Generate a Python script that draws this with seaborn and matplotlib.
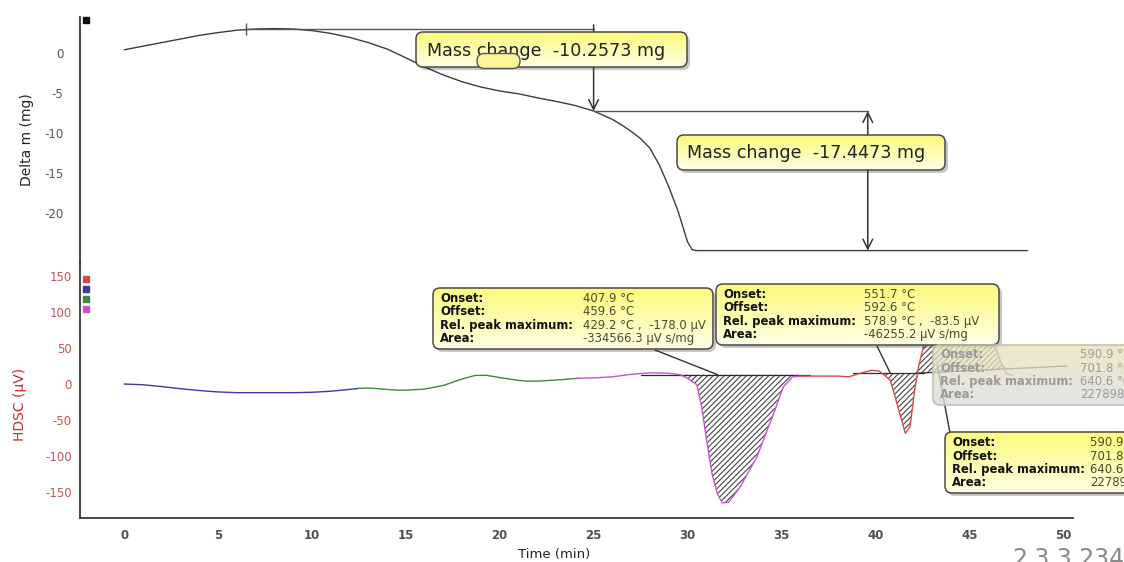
import numpy as np
import matplotlib
matplotlib.use("Agg")
import matplotlib.pyplot as plt
import seaborn as sns
from matplotlib.patches import FancyBboxPatch, ConnectionPatch
from matplotlib.ticker import MultipleLocator, FixedLocator

sns.set_style("white")
plt.rcParams["font.family"] = ["DejaVu Sans"]
plt.rcParams["hatch.linewidth"] = 0.8
plt.rcParams["axes.unicode_minus"] = False

# ---------------- TG (mass) curve ----------------
tg_time = [0, 1, 2, 3, 4, 5, 6, 7, 8, 9, 10, 11, 12, 13, 14, 15, 16, 17, 18, 19,
           20, 21, 22, 23, 24, 25, 26, 26.5, 27, 27.5, 28, 28.5, 29, 29.5, 30,
           30.25, 30.5, 35, 40, 45, 48.1]
tg_mass = [0.4, 0.85, 1.3, 1.75, 2.2, 2.55, 2.85, 3.0, 3.05, 3.0, 2.8, 2.45, 1.95,
           1.3, 0.5, -0.6, -1.75, -2.75, -3.6, -4.25, -4.75, -5.1, -5.6, -6.05,
           -6.55, -7.25, -8.3, -9.0, -9.8, -10.7, -11.9, -14.0, -16.7, -19.8,
           -23.6, -24.6, -24.7, -24.7, -24.7, -24.7, -24.7]

MASS_START = 3.0
MASS_CHANGE_1 = -10.2573
MASS_CHANGE_2 = -17.4473
STEP_START_T = 6.5
STEP1_T = 25.0
STEP2_T = 39.6

# ---------------- DSC curve, by segment ----------------
BASE1, PEAK1_REL = 13.0, -178.0
BASE2, PEAK2_REL = 15.0, -83.5
BASE3_T = [42.2, 50.2]
BASE3_UV = [15.0, 25.0]

blue_t = [0, 1, 2, 3, 4, 5, 6, 7, 8, 9, 10, 11, 12, 12.5]
blue_uv = [0, -1, -3.5, -6.5, -9, -11, -12, -12, -12, -12, -11.5, -10, -7.5, -6]
green_t = [12.5, 13, 14, 14.5, 15, 16, 17, 18, 18.7, 19.3, 20, 21, 21.5, 22, 23, 24.2]
green_uv = [-6, -5.5, -7.5, -8.5, -8.5, -7, -2, 7, 12, 12, 9, 5, 4, 4, 5.5, 8]
magenta_t = [24.2, 25, 26, 27, 28, 29, 29.6, 30.0, 30.5, 30.75, 31.0, 31.3, 31.6,
             31.85, 32.2, 32.8, 33.7, 34.6, 35.1, 35.6, 36.0]
magenta_uv = [8, 8.5, 10, 13.5, 15.5, 15, 13, 8, -1, -31, -75, -124, -153,
              BASE1 + PEAK1_REL, -164, -143, -101, -40, -4, 10, 11]
red_t = [36, 37, 38, 38.6, 39.2, 39.8, 40.2, 40.5, 40.8, 41.1, 41.4, 41.6, 41.85,
         42.1, 42.3, 42.56, 43.0, 43.6, 44.3, 45.0, 45.7, 46.3, 46.7, 47.0, 47.3]
red_uv = [11, 11, 11, 10, 15, 19, 18, 12, 5, -22, -50, BASE2 + PEAK2_REL, -59,
          -8, 24, 52, 95, 120, 126, 118, 95, 57, 30, 14, 12]

seg_colors = {"red": "#d24a4a", "blue": "#3a3aa6", "green": "#3d8a3d", "magenta": "#c455cf"}

peak1_rows = [("Onset:", "407.9 °C"), ("Offset:", "459.6 °C"),
              ("Rel. peak maximum:", "429.2 °C ,  -178.0 µV"),
              ("Area:", "-334566.3 µV s/mg")]
peak2_rows = [("Onset:", "551.7 °C"), ("Offset:", "592.6 °C"),
              ("Rel. peak maximum:", "578.9 °C ,  -83.5 µV"),
              ("Area:", "-46255.2 µV s/mg")]
peak3_rows = [("Onset:", "590.9 °C"), ("Offset:", "701.8 °C"),
              ("Rel. peak maximum:", "640.6 °C"),
              ("Area:", "227898")]

W, H = 1124, 562
fig = plt.figure(figsize=(W / 100, H / 100), dpi=100)

X0, X1 = 80, 1072.5
XLIM = (-2.35, 50.5)


def rect(top, bottom):
    return [X0 / W, (H - bottom) / H, (X1 - X0) / W, (bottom - top) / H]


ax1 = fig.add_axes(rect(17, 263))
ax2 = fig.add_axes(rect(262, 518))

axis_col = "#3a3a3a"
for ax in (ax1, ax2):
    ax.set_xlim(*XLIM)
    ax.set_facecolor("none")
    for s in ("top", "right"):
        ax.spines[s].set_visible(False)
    ax.spines["left"].set_color(axis_col)
    ax.spines["left"].set_linewidth(1.3)
    ax.tick_params(axis="both", which="major", direction="out", length=4,
                   width=1, color=axis_col)
    ax.tick_params(axis="both", which="minor", direction="out", length=2.2,
                   width=0.8, color=axis_col)

# ---- top panel: mass loss ----
ax1.spines["bottom"].set_visible(False)
ax1.set_ylim(-26.25, 4.5)
ax1.set_xticks([])
ax1.yaxis.set_major_locator(FixedLocator([-20, -15, -10, -5, 0]))
ax1.yaxis.set_minor_locator(MultipleLocator(1))
ax1.tick_params(axis="y", which="major", labelsize=8.5, labelcolor="#555555", pad=8)
ax1.set_ylabel("Delta m (mg)", fontsize=10, color="#222222")
ax1.yaxis.set_label_coords((34 - X0) / (X1 - X0), 0.5)

sns.lineplot(x=tg_time, y=tg_mass, ax=ax1, color="#3c3c3c", linewidth=1.0,
             estimator=None, sort=False)

level1 = MASS_START
level2 = level1 + MASS_CHANGE_1
level3 = level2 + MASS_CHANGE_2
ref_col = "#555555"
ax1.plot([STEP_START_T, STEP1_T], [level1, level1], color=ref_col, lw=1.0)
ax1.plot([STEP1_T, STEP2_T], [level2, level2], color=ref_col, lw=1.0)
ax1.plot([STEP_START_T], [level1], marker="|", color=ref_col, ms=9, mew=1.0)
ax1.annotate("", xy=(STEP1_T, level2), xytext=(STEP1_T, level1 + 0.5),
             arrowprops=dict(arrowstyle="->,head_length=0.7,head_width=0.35",
                             color="#333333", lw=1.1, shrinkA=0, shrinkB=0))
ax1.annotate("", xy=(STEP2_T, level3), xytext=(STEP2_T, level2),
             arrowprops=dict(arrowstyle="<->,head_length=0.7,head_width=0.35",
                             color="#333333", lw=1.1, shrinkA=0, shrinkB=0))
ax1.plot([-2.02], [4.1], marker="s", color="#111111", ms=4.5, clip_on=False)

# ---- bottom panel: DSC ----
ax2.spines["bottom"].set_color(axis_col)
ax2.spines["bottom"].set_linewidth(1.3)
ax2.set_ylim(-186, 169.4)
ax2.yaxis.set_major_locator(MultipleLocator(50))
ax2.yaxis.set_minor_locator(MultipleLocator(10))
ax2.xaxis.set_major_locator(FixedLocator(np.arange(0, 51, 5)))
ax2.xaxis.set_minor_locator(MultipleLocator(1))
ax2.tick_params(axis="y", which="major", labelsize=8.5, labelcolor="#c25656", pad=2)
ax2.tick_params(axis="x", which="major", labelsize=8.5, labelcolor="#505050", pad=4)
for lab in ax2.get_xticklabels():
    lab.set_fontweight("bold")
ax2.set_ylabel("HDSC (µV)", fontsize=10, color="#cc2a2a")
ax2.yaxis.set_label_coords((27 - X0) / (X1 - X0), (518 - 404) / 256)
ax2.set_xlabel("Time (min)", fontsize=9.5, color="#222222")
ax2.xaxis.set_label_coords((554 - X0) / (X1 - X0), (518 - 548) / 256)

for t, v, c in ((blue_t, blue_uv, "blue"), (green_t, green_uv, "green"),
                (magenta_t, magenta_uv, "magenta"), (red_t, red_uv, "red")):
    sns.lineplot(x=t, y=v, ax=ax2, color=seg_colors[c], linewidth=1.0,
                 estimator=None, sort=False, zorder=3)

# integration baselines and hatched peak areas
base_col = "#2a2a2a"
ax2.plot([27.5, 36.5], [BASE1, BASE1], color=base_col, lw=0.9, zorder=2)
ax2.plot([38.8, 42.6], [BASE2, BASE2], color=base_col, lw=0.9, zorder=2)
ax2.plot(BASE3_T, BASE3_UV, color=base_col, lw=0.9, zorder=2)

mt, mu = np.array(magenta_t), np.array(magenta_uv, dtype=float)
rt, ru = np.array(red_t), np.array(red_uv, dtype=float)
hatch_kw = dict(facecolor="none", edgecolor="#444444", hatch="//////", linewidth=0, zorder=1)
sel = (mt >= 29.0)
ax2.fill_between(mt[sel], np.minimum(mu[sel], BASE1), BASE1, **hatch_kw)
sel = (rt >= 40.2) & (rt <= 42.3)
ax2.fill_between(rt[sel], np.minimum(ru[sel], BASE2), BASE2, **hatch_kw)
sel = (rt >= 42.1)
b3 = np.interp(rt[sel], BASE3_T, BASE3_UV)
ax2.fill_between(rt[sel], np.maximum(ru[sel], b3), b3, **hatch_kw)

for yv, c in zip([146, 132, 118, 104], ["red", "blue", "green", "magenta"]):
    ax2.plot([-2.02], [yv], marker="s", color=seg_colors[c], ms=4.5, clip_on=False)

# ---------------- overlay for callouts (pixel coordinates) ----------------
ov = fig.add_axes([0, 0, 1, 1], zorder=10)
ov.set_xlim(0, W)
ov.set_ylim(H, 0)
ov.axis("off")
ov.patch.set_alpha(0)


def callout(x0, y0, w, h, faded=False, radius=7):
    style = f"round,pad=0,rounding_size={radius}"
    if not faded:
        ov.add_patch(FancyBboxPatch((x0 + 3, y0 + 3), w, h, boxstyle=style,
                                    fc="#000000", ec="none", alpha=0.22, zorder=1))
    frame = FancyBboxPatch((x0, y0), w, h, boxstyle=style, fc="none",
                           ec="#bdbdb0" if faded else "#4a4a4a", lw=1.1, zorder=3)
    ov.add_patch(frame)
    n = 64
    f = np.linspace(0, 1, n)[:, None, None]
    if faded:
        top = np.array([0.90, 0.89, 0.72, 0.78])
        bot = np.array([0.86, 0.86, 0.86, 0.78])
    else:
        top = np.array([0.99, 0.98, 0.48, 1.0])
        bot = np.array([1.0, 1.0, 0.90, 1.0])
    grad = top * (1 - f) + bot * f
    im = ov.imshow(grad, extent=(x0, x0 + w, y0 + h, y0), aspect="auto",
                   origin="upper", zorder=2, interpolation="bilinear")
    clip = FancyBboxPatch((x0, y0), w, h, boxstyle=style, fc="none", ec="none",
                          transform=ov.transData)
    im.set_clip_path(clip)
    return frame


def peak_box(x0, y0, w, h, rows, val_x, line_y0, faded=False):
    callout(x0, y0, w, h, faded=faded)
    lab_c = "#9a9a9a" if faded else "#111111"
    val_c = "#9c9c9c" if faded else "#4a4a30"
    for i, (lab, val) in enumerate(rows):
        yy = line_y0 + i * 13.3
        ov.text(x0 + 7, yy, lab, fontsize=8.4, fontweight="bold", color=lab_c,
                va="center", ha="left", zorder=4)
        ov.text(val_x, yy, val, fontsize=8.4, color=val_c, va="center",
                ha="left", zorder=4)


# connectors from the peak boxes to their peaks
def connector(px, py, t, uv, color="#333333"):
    ov.add_artist(ConnectionPatch(xyA=(px, py), coordsA=ov.transData,
                                  xyB=(t, uv), coordsB=ax2.transData,
                                  color=color, lw=1.0, zorder=1.5))


connector(655, 350, 31.6, BASE1)
connector(877, 346, 40.8, BASE2)
connector(950, 433, 43.3, 26)

# mass change callouts
callout(416, 32, 271, 35)
ov.text(427, 50.5, "Mass change  -10.2573 mg", fontsize=12.6, color="#222222",
        va="center", ha="left", zorder=4)
ov.add_patch(FancyBboxPatch((477, 53.5), 43, 15, boxstyle="round,pad=0,rounding_size=7.5",
                            fc="#fbf59a", ec="#555555", lw=1.0, zorder=5))
callout(677, 135, 268, 35)
ov.text(687, 153, "Mass change  -17.4473 mg", fontsize=12.6, color="#222222",
        va="center", ha="left", zorder=4)

peak_box(433, 288, 280, 61, peak1_rows, 583, 298.5)
peak_box(716, 284, 283, 61, peak2_rows, 864, 294.5)
peak_box(945, 432, 200, 61, peak3_rows, 1090, 443)
peak_box(933, 345, 210, 60, peak3_rows, 1080, 355, faded=True)

ov.text(1012, 547, "2.3.3.234", fontsize=17, color="#8a8a8a", va="top",
        ha="left", zorder=4)

fig.savefig("out.png", dpi=100)
